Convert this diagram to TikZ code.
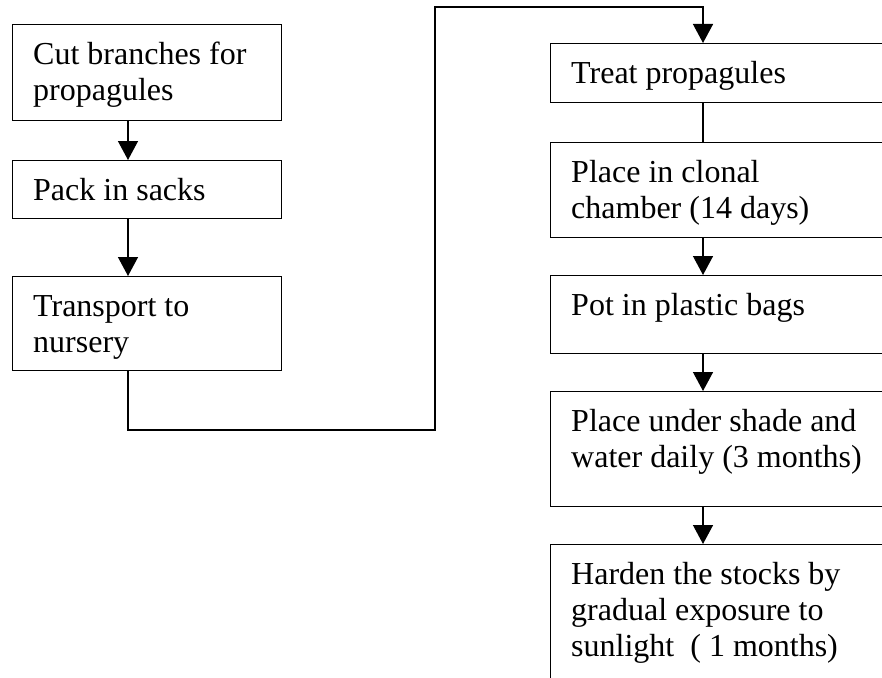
\documentclass[tikz,border=0pt]{standalone}
\usepackage{fontspec}
\setmainfont{Liberation Serif}
\usetikzlibrary{arrows.meta}
\begin{document}
\begin{tikzpicture}[x=1pt,y=-1pt,
  box/.style={draw,line width=1.4pt,rectangle,inner sep=0pt,anchor=north west},
  txt/.style={anchor=base west,inner sep=0pt,align=left,font=\fontsize{32}{36}\selectfont},
  con/.style={line width=1.4pt},
  arr/.style={line width=1.4pt,-{Triangle[length=19pt,width=20pt]}}]
\useasboundingbox (0,0) rectangle (882,677);
\clip (0,0) rectangle (882,677);
% left column
\node[box,minimum width=269pt,minimum height=96pt] (b1) at (12,24) {};
\node[box,minimum width=269pt,minimum height=58pt] (b2) at (12,160) {};
\node[box,minimum width=269pt,minimum height=94pt] (b3) at (12,276) {};
\node[txt] (t1) at (33,100) {Cut branches for\\propagules};
\node[txt] (t2) at (33,200) {Pack in sacks};
\node[txt] (t3) at (33,352) {Transport to\\nursery};
% right column
\node[box,minimum width=360pt,minimum height=59pt] (b4) at (550,43) {};
\node[box,minimum width=360pt,minimum height=95pt] (b5) at (550,142) {};
\node[box,minimum width=360pt,minimum height=78pt] (b6) at (550,275) {};
\node[box,minimum width=360pt,minimum height=115pt] (b7) at (550,391) {};
\node[box,minimum width=360pt,minimum height=160pt] (b8) at (550,544) {};
\node[txt] (t4) at (571,83) {Treat propagules};
\node[txt] (t5) at (571,218) {Place in clonal\\chamber (14 days)};
\node[txt] (t6) at (571,315) {Pot in plastic bags};
\node[txt] (t7) at (571,467) {Place under shade and\\water daily (3 months)};
\node[txt] (t8) at (571,656) {Harden the stocks by\\gradual exposure to\\sunlight~ ( 1 months)};
% connectors
\draw[arr] (b1.south -| 128,0) -- (b2.north -| 128,0);
\draw[arr] (b2.south -| 128,0) -- (b3.north -| 128,0);
\coordinate (c1) at (128,430);
\coordinate (c2) at (435,430);
\coordinate (c3) at (435,7);
\coordinate (c4) at (703,7);
\draw[arr] (b3.south -| c1) -- (c1) -- (c2) -- (c3) -- (c4) -- (b4.north -| c4);
\draw[con] (b4.south -| c4) -- (b5.north -| c4);
\draw[arr] (b5.south -| c4) -- (b6.north -| c4);
\draw[arr] (b6.south -| c4) -- (b7.north -| c4);
\draw[arr] (b7.south -| c4) -- (b8.north -| c4);
\end{tikzpicture}
\end{document}
